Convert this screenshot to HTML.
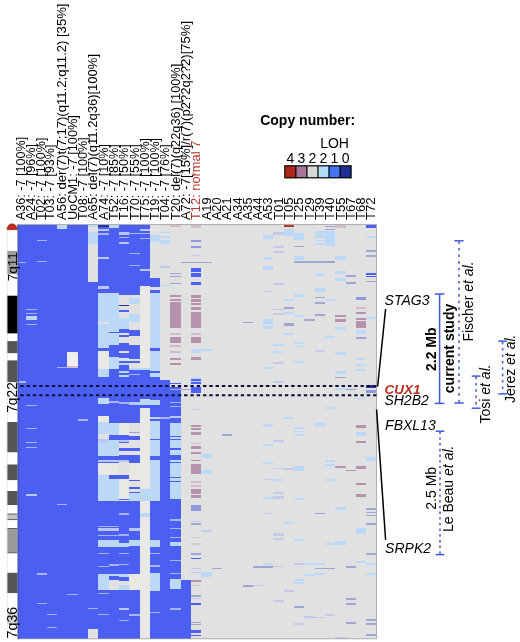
<!DOCTYPE html>
<html><head><meta charset="utf-8"><title>Copy number heatmap chr7</title>
<style>
html,body{margin:0;padding:0;background:#fff;}
body{width:520px;height:642px;overflow:hidden;font-family:"Liberation Sans",sans-serif;}
svg{display:block;filter:blur(0.3px);}
</style></head><body>
<svg width="520" height="642" viewBox="0 0 520 642"><g shape-rendering="crispEdges"><rect x="17.6" y="224.5" width="8.6" height="414.3" fill="#4b5ff3"/><rect x="26.2" y="224.5" width="10.3" height="414.3" fill="#4b5ff3"/><rect x="36.5" y="224.5" width="10.3" height="414.3" fill="#4b5ff3"/><rect x="46.8" y="224.5" width="10.3" height="414.3" fill="#4b5ff3"/><rect x="57.1" y="224.5" width="10.3" height="414.3" fill="#4b5ff3"/><rect x="67.4" y="224.5" width="10.3" height="414.3" fill="#4b5ff3"/><rect x="77.7" y="224.5" width="10.3" height="414.3" fill="#4b5ff3"/><rect x="88" y="224.5" width="10.3" height="414.3" fill="#e1e1e1"/><rect x="98.3" y="224.5" width="10.3" height="414.3" fill="#e1e1e1"/><rect x="108.6" y="224.5" width="10.3" height="414.3" fill="#e1e1e1"/><rect x="118.9" y="224.5" width="10.3" height="414.3" fill="#e1e1e1"/><rect x="129.2" y="224.5" width="10.3" height="414.3" fill="#e1e1e1"/><rect x="139.5" y="224.5" width="10.3" height="414.3" fill="#e1e1e1"/><rect x="149.8" y="224.5" width="10.3" height="414.3" fill="#e1e1e1"/><rect x="160.1" y="224.5" width="10.3" height="414.3" fill="#e1e1e1"/><rect x="170.4" y="224.5" width="10.3" height="414.3" fill="#e1e1e1"/><rect x="180.7" y="224.5" width="10.3" height="414.3" fill="#e1e1e1"/><rect x="191" y="224.5" width="10.3" height="414.3" fill="#e1e1e1"/><rect x="201.3" y="224.5" width="10.3" height="414.3" fill="#e1e1e1"/><rect x="211.6" y="224.5" width="10.3" height="414.3" fill="#e1e1e1"/><rect x="221.9" y="224.5" width="10.3" height="414.3" fill="#e1e1e1"/><rect x="232.2" y="224.5" width="10.3" height="414.3" fill="#e1e1e1"/><rect x="242.5" y="224.5" width="10.3" height="414.3" fill="#e1e1e1"/><rect x="252.8" y="224.5" width="10.3" height="414.3" fill="#e1e1e1"/><rect x="263.1" y="224.5" width="10.3" height="414.3" fill="#e1e1e1"/><rect x="273.4" y="224.5" width="10.3" height="414.3" fill="#e1e1e1"/><rect x="283.7" y="224.5" width="10.3" height="414.3" fill="#e1e1e1"/><rect x="294" y="224.5" width="10.3" height="414.3" fill="#e1e1e1"/><rect x="304.3" y="224.5" width="10.3" height="414.3" fill="#e1e1e1"/><rect x="314.6" y="224.5" width="10.3" height="414.3" fill="#e1e1e1"/><rect x="324.9" y="224.5" width="10.3" height="414.3" fill="#e1e1e1"/><rect x="335.2" y="224.5" width="10.3" height="414.3" fill="#e1e1e1"/><rect x="345.5" y="224.5" width="10.3" height="414.3" fill="#e1e1e1"/><rect x="355.8" y="224.5" width="10.3" height="414.3" fill="#e1e1e1"/><rect x="366.1" y="224.5" width="10.3" height="414.3" fill="#e1e1e1"/><rect x="17.6" y="262" width="8.6" height="1.2" fill="#a7b3f6"/><rect x="17.6" y="381.3" width="8.6" height="1.2" fill="#a7b3f6"/><rect x="26.2" y="309" width="10.3" height="1" fill="#a7b3f6"/><rect x="26.2" y="312.8" width="10.3" height="1.6" fill="#a7b3f6"/><rect x="26.2" y="323.8" width="10.3" height="1.2" fill="#a7b3f6"/><rect x="26.2" y="405" width="10.3" height="1.2" fill="#a7b3f6"/><rect x="26.2" y="428" width="10.3" height="1" fill="#a7b3f6"/><rect x="26.2" y="441.7" width="10.3" height="1.1" fill="#a7b3f6"/><rect x="26.2" y="446.8" width="10.3" height="1.6" fill="#a7b3f6"/><rect x="26.2" y="494.2" width="10.3" height="2" fill="#b9c5f6"/><rect x="26.2" y="315.6" width="10.3" height="4.1" fill="#bcd8f7"/><rect x="36.5" y="239.5" width="10.3" height="1" fill="#a7b3f6"/><rect x="36.5" y="261.3" width="10.3" height="1.1" fill="#a7b3f6"/><rect x="36.5" y="573.2" width="10.3" height="1.4" fill="#a7b3f6"/><rect x="36.5" y="602.9" width="10.3" height="1.3" fill="#a7b3f6"/><rect x="46.8" y="614.1" width="10.3" height="1.3" fill="#a7b3f6"/><rect x="46.8" y="626.7" width="10.3" height="1.4" fill="#a7b3f6"/><rect x="57.1" y="224.5" width="10.3" height="4.1" fill="#bcd8f7"/><rect x="57.1" y="367.4" width="10.3" height="0.9" fill="#a7b3f6"/><rect x="57.1" y="504" width="10.3" height="1.3" fill="#a7b3f6"/><rect x="67.4" y="351.9" width="10.3" height="14.4" fill="#e9e8e4"/><rect x="67.4" y="352.5" width="10.3" height="13" fill="#eeedf0"/><rect x="67.4" y="366.3" width="10.3" height="1.5" fill="#d2bccb"/><rect x="67.4" y="593.6" width="10.3" height="1.3" fill="#a7b3f6"/><rect x="77.7" y="419.4" width="10.3" height="1.2" fill="#a7b3f6"/><rect x="88" y="224.5" width="10.3" height="2" fill="#bcd8f7"/><rect x="88" y="232" width="10.3" height="12" fill="#bcd8f7"/><rect x="88" y="282.1" width="10.3" height="346.6" fill="#4b5ff3"/><rect x="88" y="608" width="10.3" height="1.2" fill="#a7b3f6"/><rect x="98.3" y="224.5" width="10.3" height="68.8" fill="#4b5ff3"/><rect x="98.3" y="225.3" width="10.3" height="2.1" fill="#27329c"/><rect x="98.3" y="228.7" width="10.3" height="2" fill="#b9c5f6"/><rect x="98.3" y="233.4" width="10.3" height="1.1" fill="#a7b3f6"/><rect x="98.3" y="257" width="10.3" height="2" fill="#b9c5f6"/><rect x="98.3" y="286" width="10.3" height="2.8" fill="#b9c5f6"/><rect x="98.3" y="293.3" width="10.3" height="29" fill="#bcd8f7"/><rect x="98.3" y="324" width="10.3" height="5" fill="#bcd8f7"/><rect x="98.3" y="329" width="10.3" height="18.9" fill="#bcd8f7"/><rect x="98.3" y="347.9" width="10.3" height="2.7" fill="#4b5ff3"/><rect x="98.3" y="350.6" width="10.3" height="17.9" fill="#e9e8e4"/><rect x="98.3" y="368.5" width="10.3" height="8" fill="#bcd8f7"/><rect x="98.3" y="376.5" width="10.3" height="21.5" fill="#4b5ff3"/><rect x="98.3" y="398" width="10.3" height="5.5" fill="#bcd8f7"/><rect x="98.3" y="403.5" width="10.3" height="12.7" fill="#4b5ff3"/><rect x="98.3" y="416.2" width="10.3" height="6.1" fill="#e9e8e4"/><rect x="98.3" y="422.3" width="10.3" height="11.7" fill="#bcd8f7"/><rect x="98.3" y="441.5" width="10.3" height="14.8" fill="#bcd8f7"/><rect x="98.3" y="434" width="10.3" height="4.8" fill="#e1e1e1"/><rect x="98.3" y="438.8" width="10.3" height="2.7" fill="#b9c5f6"/><rect x="98.3" y="456.3" width="10.3" height="3.2" fill="#4b5ff3"/><rect x="98.3" y="461.5" width="10.3" height="1.5" fill="#4b5ff3"/><rect x="98.3" y="459.5" width="10.3" height="2" fill="#b9c5f6"/><rect x="98.3" y="463" width="10.3" height="12" fill="#e9e8e4"/><rect x="98.3" y="475" width="10.3" height="26.2" fill="#bcd8f7"/><rect x="98.3" y="501.2" width="10.3" height="72.3" fill="#4b5ff3"/><rect x="98.3" y="526" width="10.3" height="1.4" fill="#a7b3f6"/><rect x="98.3" y="528" width="10.3" height="2.8" fill="#b9c5f6"/><rect x="98.3" y="534.8" width="10.3" height="1.3" fill="#a7b3f6"/><rect x="98.3" y="552.7" width="10.3" height="1.3" fill="#a7b3f6"/><rect x="98.3" y="565.5" width="10.3" height="1.3" fill="#a7b3f6"/><rect x="98.3" y="540.2" width="10.3" height="6.8" fill="#bcd8f7"/><rect x="98.3" y="573.5" width="10.3" height="16.2" fill="#bcd8f7"/><rect x="98.3" y="589.7" width="10.3" height="49.1" fill="#4b5ff3"/><rect x="98.3" y="593" width="10.3" height="1.4" fill="#a7b3f6"/><rect x="98.3" y="614" width="10.3" height="1.3" fill="#a7b3f6"/><rect x="108.6" y="224.5" width="10.3" height="3.3" fill="#bcd8f7"/><rect x="108.6" y="227.8" width="10.3" height="65.5" fill="#4b5ff3"/><rect x="108.6" y="293.3" width="10.3" height="38.4" fill="#bcd8f7"/><rect x="108.6" y="331.7" width="10.3" height="1.3" fill="#4b5ff3"/><rect x="108.6" y="333" width="10.3" height="12.2" fill="#bcd8f7"/><rect x="108.6" y="345.2" width="10.3" height="11.8" fill="#4b5ff3"/><rect x="108.6" y="357" width="10.3" height="11.5" fill="#bcd8f7"/><rect x="108.6" y="368.5" width="10.3" height="54.9" fill="#4b5ff3"/><rect x="108.6" y="401.4" width="10.3" height="1.4" fill="#a7b3f6"/><rect x="108.6" y="423.4" width="10.3" height="11.4" fill="#bcd8f7"/><rect x="108.6" y="434.8" width="10.3" height="5.4" fill="#4b5ff3"/><rect x="108.6" y="440.2" width="10.3" height="16.1" fill="#bcd8f7"/><rect x="108.6" y="456.3" width="10.3" height="3.2" fill="#4b5ff3"/><rect x="108.6" y="461.5" width="10.3" height="1.5" fill="#4b5ff3"/><rect x="108.6" y="459.5" width="10.3" height="2" fill="#b9c5f6"/><rect x="108.6" y="463" width="10.3" height="12.2" fill="#e9e8e4"/><rect x="108.6" y="475.2" width="10.3" height="3.3" fill="#4b5ff3"/><rect x="108.6" y="478.5" width="10.3" height="22.7" fill="#bcd8f7"/><rect x="108.6" y="501.2" width="10.3" height="137.6" fill="#4b5ff3"/><rect x="108.6" y="526" width="10.3" height="1.4" fill="#a7b3f6"/><rect x="108.6" y="528" width="10.3" height="2.8" fill="#b9c5f6"/><rect x="108.6" y="534.8" width="10.3" height="1.3" fill="#a7b3f6"/><rect x="108.6" y="564" width="10.3" height="1.5" fill="#a7b3f6"/><rect x="108.6" y="540.2" width="10.3" height="6.8" fill="#bcd8f7"/><rect x="108.6" y="573.5" width="10.3" height="2.7" fill="#bcd8f7"/><rect x="108.6" y="576.2" width="10.3" height="3.4" fill="#4b5ff3"/><rect x="108.6" y="579.6" width="10.3" height="10.1" fill="#e1e1e1"/><rect x="118.9" y="224.5" width="10.3" height="70.2" fill="#4b5ff3"/><rect x="118.9" y="232" width="10.3" height="2.5" fill="#b9c5f6"/><rect x="118.9" y="236.8" width="10.3" height="1.3" fill="#a7b3f6"/><rect x="118.9" y="241.5" width="10.3" height="2" fill="#b9c5f6"/><rect x="118.9" y="294.7" width="10.3" height="10.1" fill="#e1e1e1"/><rect x="118.9" y="304.8" width="10.3" height="1.4" fill="#27329c"/><rect x="118.9" y="306.2" width="10.3" height="4" fill="#e1e1e1"/><rect x="118.9" y="310.2" width="10.3" height="2" fill="#4b5ff3"/><rect x="118.9" y="312.2" width="10.3" height="5.8" fill="#e1e1e1"/><rect x="118.9" y="318" width="10.3" height="11" fill="#bcd8f7"/><rect x="118.9" y="329" width="10.3" height="4" fill="#4b5ff3"/><rect x="118.9" y="333" width="10.3" height="2" fill="#e1e1e1"/><rect x="118.9" y="335" width="10.3" height="2" fill="#4b5ff3"/><rect x="118.9" y="337" width="10.3" height="5.5" fill="#e1e1e1"/><rect x="118.9" y="342.5" width="10.3" height="8.1" fill="#4b5ff3"/><rect x="118.9" y="350.6" width="10.3" height="2.7" fill="#e1e1e1"/><rect x="118.9" y="353.3" width="10.3" height="4.4" fill="#4b5ff3"/><rect x="118.9" y="357.7" width="10.3" height="3.3" fill="#e1e1e1"/><rect x="118.9" y="361" width="10.3" height="2" fill="#4b5ff3"/><rect x="118.9" y="363" width="10.3" height="2" fill="#bcd8f7"/><rect x="118.9" y="365" width="10.3" height="5.5" fill="#4b5ff3"/><rect x="118.9" y="370.5" width="10.3" height="2.7" fill="#bcd8f7"/><rect x="118.9" y="373.2" width="10.3" height="1.3" fill="#4b5ff3"/><rect x="118.9" y="374.5" width="10.3" height="2.7" fill="#bcd8f7"/><rect x="118.9" y="377.2" width="10.3" height="46.2" fill="#4b5ff3"/><rect x="118.9" y="402" width="10.3" height="1.5" fill="#a7b3f6"/><rect x="118.9" y="423.4" width="10.3" height="11.4" fill="#e9e8e4"/><rect x="118.9" y="434.8" width="10.3" height="4.7" fill="#4b5ff3"/><rect x="118.9" y="439.5" width="10.3" height="2" fill="#b9c5f6"/><rect x="118.9" y="441.5" width="10.3" height="1.5" fill="#4b5ff3"/><rect x="118.9" y="443" width="10.3" height="5.3" fill="#e1e1e1"/><rect x="118.9" y="448.3" width="10.3" height="2.7" fill="#4b5ff3"/><rect x="118.9" y="451" width="10.3" height="4" fill="#e1e1e1"/><rect x="118.9" y="455" width="10.3" height="4.7" fill="#4b5ff3"/><rect x="118.9" y="459.7" width="10.3" height="2.7" fill="#b9c5f6"/><rect x="118.9" y="462.4" width="10.3" height="12.8" fill="#e1e1e1"/><rect x="118.9" y="475.2" width="10.3" height="3.3" fill="#4b5ff3"/><rect x="118.9" y="478.5" width="10.3" height="20" fill="#e9e8e4"/><rect x="118.9" y="498.5" width="10.3" height="1.5" fill="#4b5ff3"/><rect x="118.9" y="500" width="10.3" height="1.2" fill="#e1e1e1"/><rect x="118.9" y="501.2" width="10.3" height="137.6" fill="#4b5ff3"/><rect x="118.9" y="513" width="10.3" height="1.5" fill="#a7b3f6"/><rect x="118.9" y="534" width="10.3" height="1.5" fill="#a7b3f6"/><rect x="118.9" y="552.7" width="10.3" height="1.3" fill="#a7b3f6"/><rect x="118.9" y="563.5" width="10.3" height="1.3" fill="#a7b3f6"/><rect x="118.9" y="607.9" width="10.3" height="2.1" fill="#b9c5f6"/><rect x="118.9" y="619.5" width="10.3" height="1.5" fill="#a7b3f6"/><rect x="118.9" y="542.9" width="10.3" height="4.1" fill="#bcd8f7"/><rect x="118.9" y="574" width="10.3" height="3" fill="#bcd8f7"/><rect x="118.9" y="585" width="10.3" height="4.7" fill="#bcd8f7"/><rect x="118.9" y="581" width="10.3" height="4" fill="#e1e1e1"/><rect x="129.2" y="224.5" width="10.3" height="70.2" fill="#4b5ff3"/><rect x="129.2" y="232.7" width="10.3" height="1.4" fill="#a7b3f6"/><rect x="129.2" y="252.9" width="10.3" height="1.4" fill="#a7b3f6"/><rect x="129.2" y="265" width="10.3" height="1" fill="#a7b3f6"/><rect x="129.2" y="294.7" width="10.3" height="3.3" fill="#e1e1e1"/><rect x="129.2" y="298" width="10.3" height="5.5" fill="#bcd8f7"/><rect x="129.2" y="303.5" width="10.3" height="10.5" fill="#e1e1e1"/><rect x="129.2" y="314" width="10.3" height="8" fill="#bcd8f7"/><rect x="129.2" y="322" width="10.3" height="7.7" fill="#e1e1e1"/><rect x="129.2" y="329.7" width="10.3" height="6.7" fill="#4b5ff3"/><rect x="129.2" y="336.4" width="10.3" height="8.8" fill="#e1e1e1"/><rect x="129.2" y="345.2" width="10.3" height="13.8" fill="#4b5ff3"/><rect x="129.2" y="359" width="10.3" height="2" fill="#e1e1e1"/><rect x="129.2" y="361" width="10.3" height="2" fill="#4b5ff3"/><rect x="129.2" y="363" width="10.3" height="4.8" fill="#e1e1e1"/><rect x="129.2" y="367.8" width="10.3" height="2.2" fill="#bcd8f7"/><rect x="129.2" y="370" width="10.3" height="53.4" fill="#4b5ff3"/><rect x="129.2" y="373.8" width="10.3" height="1.4" fill="#a7b3f6"/><rect x="129.2" y="402" width="10.3" height="2.8" fill="#b9c5f6"/><rect x="129.2" y="423.4" width="10.3" height="8.6" fill="#e1e1e1"/><rect x="129.2" y="432" width="10.3" height="1.4" fill="#a0a6d2"/><rect x="129.2" y="433.4" width="10.3" height="2.6" fill="#e1e1e1"/><rect x="129.2" y="436" width="10.3" height="3.5" fill="#4b5ff3"/><rect x="129.2" y="439.5" width="10.3" height="8.8" fill="#e1e1e1"/><rect x="129.2" y="448.3" width="10.3" height="2.7" fill="#4b5ff3"/><rect x="129.2" y="451" width="10.3" height="4" fill="#e1e1e1"/><rect x="129.2" y="455" width="10.3" height="8" fill="#4b5ff3"/><rect x="129.2" y="463" width="10.3" height="17" fill="#e9e8e4"/><rect x="129.2" y="480" width="10.3" height="1.2" fill="#4b5ff3"/><rect x="129.2" y="481.2" width="10.3" height="5.4" fill="#e1e1e1"/><rect x="129.2" y="486.6" width="10.3" height="2" fill="#4b5ff3"/><rect x="129.2" y="488.6" width="10.3" height="3.1" fill="#e1e1e1"/><rect x="129.2" y="491.7" width="10.3" height="1.3" fill="#4b5ff3"/><rect x="129.2" y="493" width="10.3" height="8.2" fill="#bcd8f7"/><rect x="129.2" y="501.2" width="10.3" height="72.3" fill="#4b5ff3"/><rect x="129.2" y="528" width="10.3" height="2.8" fill="#b9c5f6"/><rect x="129.2" y="540" width="10.3" height="5.6" fill="#bcd8f7"/><rect x="129.2" y="573.5" width="10.3" height="16.9" fill="#e9e8e4"/><rect x="129.2" y="590.4" width="10.3" height="48.4" fill="#4b5ff3"/><rect x="129.2" y="614" width="10.3" height="1.5" fill="#a7b3f6"/><rect x="139.5" y="224.5" width="10.3" height="61.5" fill="#4b5ff3"/><rect x="139.5" y="228.7" width="10.3" height="2" fill="#b9c5f6"/><rect x="139.5" y="233" width="10.3" height="1" fill="#a7b3f6"/><rect x="139.5" y="237.5" width="10.3" height="1.3" fill="#a7b3f6"/><rect x="139.5" y="269" width="10.3" height="2.4" fill="#b9c5f6"/><rect x="139.5" y="286" width="10.3" height="81.8" fill="#e9e8e4"/><rect x="139.5" y="367.8" width="10.3" height="2" fill="#bcd8f7"/><rect x="139.5" y="369.8" width="10.3" height="37.7" fill="#4b5ff3"/><rect x="139.5" y="399.4" width="10.3" height="5.4" fill="#bcd8f7"/><rect x="139.5" y="407.5" width="10.3" height="231.3" fill="#e9e8e4"/><rect x="139.5" y="513.3" width="10.3" height="4" fill="#bcd8f7"/><rect x="139.5" y="489" width="10.3" height="12.2" fill="#bcd8f7"/><rect x="149.8" y="228.7" width="10.3" height="1.3" fill="#e9e8e4"/><rect x="149.8" y="235.4" width="10.3" height="6.1" fill="#bcd8f7"/><rect x="149.8" y="277.8" width="10.3" height="8.8" fill="#4b5ff3"/><rect x="149.8" y="290" width="10.3" height="3.4" fill="#4b5ff3"/><rect x="149.8" y="293.4" width="10.3" height="54.5" fill="#bcd8f7"/><rect x="149.8" y="347.9" width="10.3" height="2.7" fill="#4b5ff3"/><rect x="149.8" y="350.6" width="10.3" height="20.4" fill="#bcd8f7"/><rect x="149.8" y="371" width="10.3" height="1.5" fill="#4b5ff3"/><rect x="149.8" y="372.5" width="10.3" height="4.7" fill="#bcd8f7"/><rect x="149.8" y="377.2" width="10.3" height="22.8" fill="#4b5ff3"/><rect x="149.8" y="400" width="10.3" height="5" fill="#bcd8f7"/><rect x="149.8" y="405" width="10.3" height="12" fill="#4b5ff3"/><rect x="149.8" y="417" width="10.3" height="2" fill="#bcd8f7"/><rect x="149.8" y="419" width="10.3" height="2.4" fill="#4b5ff3"/><rect x="149.8" y="421.4" width="10.3" height="79.8" fill="#bcd8f7"/><rect x="149.8" y="438.6" width="10.3" height="1.4" fill="#4b5ff3"/><rect x="149.8" y="456.3" width="10.3" height="3.4" fill="#4b5ff3"/><rect x="149.8" y="501.2" width="10.3" height="39" fill="#4b5ff3"/><rect x="149.8" y="540.2" width="10.3" height="6.8" fill="#bcd8f7"/><rect x="149.8" y="547" width="10.3" height="26" fill="#4b5ff3"/><rect x="149.8" y="552.9" width="10.3" height="1.1" fill="#a7b3f6"/><rect x="149.8" y="565" width="10.3" height="1.5" fill="#a7b3f6"/><rect x="149.8" y="573" width="10.3" height="17.9" fill="#bcd8f7"/><rect x="149.8" y="590.9" width="10.3" height="47.9" fill="#4b5ff3"/><rect x="149.8" y="611.7" width="10.3" height="1.2" fill="#a7b3f6"/><rect x="160.1" y="231.6" width="10.3" height="1.4" fill="#bcd8f7"/><rect x="160.1" y="236" width="10.3" height="1.5" fill="#bcd8f7"/><rect x="160.1" y="239.5" width="10.3" height="4.7" fill="#bcd8f7"/><rect x="160.1" y="284.6" width="10.3" height="1.4" fill="#bcd8f7"/><rect x="160.1" y="266.4" width="10.3" height="1.3" fill="#c4c9ea"/><rect x="160.1" y="380" width="10.3" height="258.8" fill="#4b5ff3"/><rect x="160.1" y="417" width="10.3" height="1.5" fill="#a7b3f6"/><rect x="170.4" y="224.7" width="10.3" height="2.7" fill="#d2bccb"/><rect x="170.4" y="273.1" width="10.3" height="0.9" fill="#a0a6d2"/><rect x="170.4" y="276.2" width="10.3" height="1" fill="#a0a6d2"/><rect x="170.4" y="282.5" width="10.3" height="1.4" fill="#a0a6d2"/><rect x="170.4" y="295.4" width="10.3" height="2" fill="#b792ae"/><rect x="170.4" y="298.7" width="10.3" height="2.1" fill="#b792ae"/><rect x="170.4" y="301.5" width="10.3" height="2" fill="#b792ae"/><rect x="170.4" y="304" width="10.3" height="24.4" fill="#b792ae"/><rect x="170.4" y="337" width="10.3" height="5.5" fill="#b792ae"/><rect x="170.4" y="358.4" width="10.3" height="2" fill="#b792ae"/><rect x="170.4" y="363" width="10.3" height="2" fill="#b792ae"/><rect x="170.4" y="333" width="10.3" height="1.7" fill="#d2bccb"/><rect x="170.4" y="344.5" width="10.3" height="2" fill="#d2bccb"/><rect x="170.4" y="351.2" width="10.3" height="1.4" fill="#d2bccb"/><rect x="170.4" y="382.6" width="10.3" height="1.4" fill="#4b5ff3"/><rect x="170.4" y="387.3" width="10.3" height="36.1" fill="#4b5ff3"/><rect x="170.4" y="389.3" width="10.3" height="1" fill="#a7b3f6"/><rect x="170.4" y="402" width="10.3" height="1.3" fill="#a7b3f6"/><rect x="170.4" y="406" width="10.3" height="1.3" fill="#a7b3f6"/><rect x="170.4" y="416" width="10.3" height="2" fill="#b9c5f6"/><rect x="170.4" y="423.4" width="10.3" height="75.7" fill="#bcd8f7"/><rect x="170.4" y="435.5" width="10.3" height="1.3" fill="#4b5ff3"/><rect x="170.4" y="438.8" width="10.3" height="1.4" fill="#4b5ff3"/><rect x="170.4" y="448.3" width="10.3" height="1.3" fill="#4b5ff3"/><rect x="170.4" y="455.3" width="10.3" height="4.4" fill="#4b5ff3"/><rect x="170.4" y="461.7" width="10.3" height="1.3" fill="#4b5ff3"/><rect x="170.4" y="476.5" width="10.3" height="1.4" fill="#4b5ff3"/><rect x="170.4" y="480.6" width="10.3" height="1.3" fill="#4b5ff3"/><rect x="170.4" y="499.1" width="10.3" height="79.6" fill="#4b5ff3"/><rect x="170.4" y="519.3" width="10.3" height="1.4" fill="#a7b3f6"/><rect x="170.4" y="528" width="10.3" height="1.4" fill="#a7b3f6"/><rect x="170.4" y="536.8" width="10.3" height="1.4" fill="#a7b3f6"/><rect x="170.4" y="560" width="10.3" height="1" fill="#a7b3f6"/><rect x="170.4" y="573" width="10.3" height="1.4" fill="#a7b3f6"/><rect x="170.4" y="541.5" width="10.3" height="4.1" fill="#bcd8f7"/><rect x="170.4" y="578.7" width="10.3" height="10" fill="#bcd8f7"/><rect x="170.4" y="588.7" width="10.3" height="50.1" fill="#4b5ff3"/><rect x="170.4" y="608" width="10.3" height="1.5" fill="#a7b3f6"/><rect x="180.7" y="261.7" width="10.3" height="1.3" fill="#a0a6d2"/><rect x="180.7" y="389.3" width="10.3" height="1" fill="#a0a6d2"/><rect x="180.7" y="580.1" width="10.3" height="58.7" fill="#4b5ff3"/><rect x="191" y="224.7" width="10.3" height="3.1" fill="#d2bccb"/><rect x="191" y="240.2" width="10.3" height="1.6" fill="#8f97dd"/><rect x="191" y="246.2" width="10.3" height="2" fill="#8f97dd"/><rect x="191" y="255" width="10.3" height="1.3" fill="#c4c9ea"/><rect x="191" y="268.4" width="10.3" height="3.4" fill="#4b5ff3"/><rect x="191" y="273.1" width="10.3" height="4.1" fill="#4b5ff3"/><rect x="191" y="281.9" width="10.3" height="3.3" fill="#4b5ff3"/><rect x="191" y="261.7" width="10.3" height="1.3" fill="#a0a6d2"/><rect x="191" y="295.4" width="10.3" height="2.6" fill="#b792ae"/><rect x="191" y="299" width="10.3" height="2.5" fill="#b792ae"/><rect x="191" y="302.5" width="10.3" height="2.3" fill="#b792ae"/><rect x="191" y="306.8" width="10.3" height="2.7" fill="#b792ae"/><rect x="191" y="312.2" width="10.3" height="16.2" fill="#b792ae"/><rect x="191" y="337" width="10.3" height="5.5" fill="#b792ae"/><rect x="191" y="357" width="10.3" height="2.7" fill="#b792ae"/><rect x="191" y="333" width="10.3" height="1.7" fill="#d2bccb"/><rect x="191" y="348.5" width="10.3" height="4.8" fill="#bcd8f7"/><rect x="191" y="377.9" width="10.3" height="6.1" fill="#bcd8f7"/><rect x="191" y="379" width="10.3" height="1.5" fill="#4b5ff3"/><rect x="191" y="382" width="10.3" height="1.5" fill="#4b5ff3"/><rect x="191" y="386.6" width="10.3" height="6.1" fill="#4b5ff3"/><rect x="191" y="408.8" width="10.3" height="1.4" fill="#c4c9ea"/><rect x="191" y="424.7" width="10.3" height="2" fill="#b792ae"/><rect x="191" y="428" width="10.3" height="2" fill="#b792ae"/><rect x="191" y="432.1" width="10.3" height="2.7" fill="#b792ae"/><rect x="191" y="446.2" width="10.3" height="2.8" fill="#b792ae"/><rect x="191" y="451.6" width="10.3" height="2.7" fill="#b792ae"/><rect x="191" y="459.7" width="10.3" height="1.3" fill="#b792ae"/><rect x="191" y="463.7" width="10.3" height="10.1" fill="#b792ae"/><rect x="191" y="489" width="10.3" height="5" fill="#b792ae"/><rect x="191" y="495" width="10.3" height="3" fill="#b792ae"/><rect x="191" y="442.5" width="10.3" height="1.5" fill="#d2bccb"/><rect x="191" y="481" width="10.3" height="2" fill="#d2bccb"/><rect x="191" y="485" width="10.3" height="2" fill="#d2bccb"/><rect x="191" y="584.5" width="10.3" height="1.5" fill="#d2bccb"/><rect x="191" y="536.8" width="10.3" height="1.4" fill="#cbcbd2"/><rect x="191" y="542.9" width="10.3" height="2.1" fill="#cbcbd2"/><rect x="191" y="504.5" width="10.3" height="6.1" fill="#8f97dd"/><rect x="191" y="520.7" width="10.3" height="1.3" fill="#c4c9ea"/><rect x="191" y="568" width="10.3" height="1.4" fill="#c4c9ea"/><rect x="191" y="571.5" width="10.3" height="1.5" fill="#c4c9ea"/><rect x="191" y="598" width="10.3" height="1" fill="#c4c9ea"/><rect x="191" y="523.4" width="10.3" height="1.3" fill="#a0a6d2"/><rect x="191" y="553" width="10.3" height="2" fill="#a0a6d2"/><rect x="191" y="595.2" width="10.3" height="1.4" fill="#a0a6d2"/><rect x="191" y="621.7" width="10.3" height="1.5" fill="#a0a6d2"/><rect x="191" y="624" width="10.3" height="1.4" fill="#a0a6d2"/><rect x="191" y="557.9" width="10.3" height="1.4" fill="#4b5ff3"/><rect x="191" y="603.4" width="10.3" height="1.8" fill="#4b5ff3"/><rect x="191" y="629.6" width="10.3" height="3.6" fill="#4b5ff3"/><rect x="191" y="634.6" width="10.3" height="1.4" fill="#4b5ff3"/><rect x="191" y="580" width="10.3" height="1.6" fill="#b792ae"/><rect x="201.3" y="261.7" width="10.3" height="1.3" fill="#a0a6d2"/><rect x="201.3" y="348.5" width="10.3" height="2.1" fill="#bcd8f7"/><rect x="201.3" y="453.6" width="10.3" height="4.1" fill="#bcd8f7"/><rect x="201.3" y="469.8" width="10.3" height="4" fill="#bcd8f7"/><rect x="201.3" y="571.5" width="10.3" height="5" fill="#bcd8f7"/><rect x="201.3" y="530" width="10.3" height="1.5" fill="#c4c9ea"/><rect x="211.6" y="567.7" width="10.3" height="1.3" fill="#a0a6d2"/><rect x="221.9" y="433.8" width="10.3" height="1.7" fill="#a0a6d2"/><rect x="242.5" y="321.5" width="10.3" height="1.7" fill="#a0a6d2"/><rect x="242.5" y="585.3" width="10.3" height="1.4" fill="#a0a6d2"/><rect x="252.8" y="566.3" width="10.3" height="1.4" fill="#a0a6d2"/><rect x="252.8" y="585" width="10.3" height="1" fill="#c4c9ea"/><rect x="263.1" y="235" width="10.3" height="4.3" fill="#bcd8f7"/><rect x="263.1" y="256.6" width="10.3" height="3.4" fill="#bcd8f7"/><rect x="263.1" y="266" width="10.3" height="3.6" fill="#bcd8f7"/><rect x="263.1" y="318.9" width="10.3" height="5.1" fill="#bcd8f7"/><rect x="263.1" y="325.8" width="10.3" height="3.5" fill="#bcd8f7"/><rect x="263.1" y="367.2" width="10.3" height="1.8" fill="#bcd8f7"/><rect x="263.1" y="424.3" width="10.3" height="2.6" fill="#bcd8f7"/><rect x="263.1" y="443.7" width="10.3" height="2.5" fill="#bcd8f7"/><rect x="263.1" y="461.8" width="10.3" height="2.6" fill="#bcd8f7"/><rect x="263.1" y="497.3" width="10.3" height="1.7" fill="#bcd8f7"/><rect x="263.1" y="562.5" width="10.3" height="2.5" fill="#bcd8f7"/><rect x="263.1" y="291" width="10.3" height="1" fill="#c4c9ea"/><rect x="263.1" y="385" width="10.3" height="1" fill="#c4c9ea"/><rect x="263.1" y="479" width="10.3" height="1" fill="#c4c9ea"/><rect x="263.1" y="513" width="10.3" height="1" fill="#c4c9ea"/><rect x="263.1" y="566.3" width="10.3" height="1.4" fill="#a0a6d2"/><rect x="273.4" y="232.4" width="10.3" height="2.6" fill="#c4c9ea"/><rect x="273.4" y="246.2" width="10.3" height="1.8" fill="#c4c9ea"/><rect x="273.4" y="251.4" width="10.3" height="1.7" fill="#c4c9ea"/><rect x="273.4" y="263.5" width="10.3" height="0.9" fill="#c4c9ea"/><rect x="273.4" y="283.4" width="10.3" height="1.7" fill="#c4c9ea"/><rect x="273.4" y="308.5" width="10.3" height="1.7" fill="#c4c9ea"/><rect x="273.4" y="312.8" width="10.3" height="1.7" fill="#c4c9ea"/><rect x="273.4" y="343.8" width="10.3" height="1.8" fill="#c4c9ea"/><rect x="273.4" y="350.8" width="10.3" height="2.6" fill="#c4c9ea"/><rect x="273.4" y="362" width="10.3" height="1.7" fill="#c4c9ea"/><rect x="273.4" y="381" width="10.3" height="1.8" fill="#c4c9ea"/><rect x="273.4" y="440" width="10.3" height="1.5" fill="#c4c9ea"/><rect x="273.4" y="467.5" width="10.3" height="1.5" fill="#c4c9ea"/><rect x="273.4" y="478.6" width="10.3" height="2.4" fill="#c4c9ea"/><rect x="273.4" y="492" width="10.3" height="2.2" fill="#c4c9ea"/><rect x="273.4" y="496" width="10.3" height="3" fill="#c4c9ea"/><rect x="273.4" y="532.8" width="10.3" height="2.7" fill="#c4c9ea"/><rect x="273.4" y="537.8" width="10.3" height="1.7" fill="#c4c9ea"/><rect x="273.4" y="565.5" width="10.3" height="1.5" fill="#c4c9ea"/><rect x="273.4" y="600" width="10.3" height="2" fill="#c4c9ea"/><rect x="273.4" y="344" width="10.3" height="1.5" fill="#bcd8f7"/><rect x="273.4" y="351" width="10.3" height="2" fill="#bcd8f7"/><rect x="273.4" y="478.6" width="10.3" height="2.4" fill="#bcd8f7"/><rect x="283.7" y="224.6" width="10.3" height="2.8" fill="#b3352a"/><rect x="283.7" y="229.3" width="10.3" height="3.2" fill="#bcd8f7"/><rect x="283.7" y="233" width="10.3" height="2.7" fill="#bcd8f7"/><rect x="283.7" y="298.7" width="10.3" height="1.8" fill="#bcd8f7"/><rect x="283.7" y="312.4" width="10.3" height="1.8" fill="#bcd8f7"/><rect x="283.7" y="332.7" width="10.3" height="1.9" fill="#bcd8f7"/><rect x="283.7" y="416.8" width="10.3" height="1.8" fill="#bcd8f7"/><rect x="283.7" y="522" width="10.3" height="2" fill="#bcd8f7"/><rect x="283.7" y="307" width="10.3" height="1.8" fill="#a0a6d2"/><rect x="283.7" y="323.4" width="10.3" height="2.6" fill="#a0a6d2"/><rect x="283.7" y="468" width="10.3" height="1.5" fill="#c4c9ea"/><rect x="283.7" y="590" width="10.3" height="1.5" fill="#c4c9ea"/><rect x="294" y="233" width="10.3" height="7.3" fill="#bcd8f7"/><rect x="294" y="255.8" width="10.3" height="4.6" fill="#bcd8f7"/><rect x="294" y="294.2" width="10.3" height="2.8" fill="#bcd8f7"/><rect x="294" y="315.2" width="10.3" height="1.8" fill="#bcd8f7"/><rect x="294" y="341.9" width="10.3" height="1.8" fill="#bcd8f7"/><rect x="294" y="345.5" width="10.3" height="1.9" fill="#bcd8f7"/><rect x="294" y="361" width="10.3" height="1.5" fill="#bcd8f7"/><rect x="294" y="426.8" width="10.3" height="1.8" fill="#bcd8f7"/><rect x="294" y="430.5" width="10.3" height="1.8" fill="#bcd8f7"/><rect x="294" y="434" width="10.3" height="2" fill="#bcd8f7"/><rect x="294" y="466" width="10.3" height="4.6" fill="#bcd8f7"/><rect x="294" y="498" width="10.3" height="2" fill="#bcd8f7"/><rect x="294" y="539" width="10.3" height="2" fill="#bcd8f7"/><rect x="294" y="579" width="10.3" height="2" fill="#bcd8f7"/><rect x="294" y="582" width="10.3" height="2" fill="#bcd8f7"/><rect x="294" y="245.7" width="10.3" height="1.5" fill="#a0a6d2"/><rect x="294" y="261.3" width="10.3" height="1.3" fill="#a0a6d2"/><rect x="294" y="606" width="10.3" height="1.5" fill="#a0a6d2"/><rect x="294" y="563" width="10.3" height="1.5" fill="#c4c9ea"/><rect x="294" y="623" width="10.3" height="1.5" fill="#c4c9ea"/><rect x="304.3" y="318.8" width="10.3" height="1.8" fill="#a0a6d2"/><rect x="304.3" y="261.3" width="10.3" height="1.3" fill="#a0a6d2"/><rect x="304.3" y="563" width="10.3" height="2" fill="#bcd8f7"/><rect x="304.3" y="574" width="10.3" height="2" fill="#bcd8f7"/><rect x="304.3" y="616" width="10.3" height="1.5" fill="#c4c9ea"/><rect x="314.6" y="231.1" width="10.3" height="1.5" fill="#bcd8f7"/><rect x="314.6" y="234" width="10.3" height="1.5" fill="#bcd8f7"/><rect x="314.6" y="236.4" width="10.3" height="1.5" fill="#bcd8f7"/><rect x="314.6" y="239.8" width="10.3" height="1.4" fill="#bcd8f7"/><rect x="314.6" y="242.7" width="10.3" height="2.3" fill="#bcd8f7"/><rect x="314.6" y="273" width="10.3" height="3" fill="#bcd8f7"/><rect x="314.6" y="287.8" width="10.3" height="4.5" fill="#bcd8f7"/><rect x="314.6" y="423.2" width="10.3" height="3.6" fill="#bcd8f7"/><rect x="314.6" y="562.5" width="10.3" height="2" fill="#bcd8f7"/><rect x="314.6" y="573" width="10.3" height="2" fill="#bcd8f7"/><rect x="314.6" y="261.3" width="10.3" height="1.3" fill="#a0a6d2"/><rect x="314.6" y="296.9" width="10.3" height="1.5" fill="#a0a6d2"/><rect x="314.6" y="302.4" width="10.3" height="1.4" fill="#a0a6d2"/><rect x="314.6" y="314.3" width="10.3" height="1.7" fill="#a0a6d2"/><rect x="314.6" y="513" width="10.3" height="1" fill="#a0a6d2"/><rect x="314.6" y="567.5" width="10.3" height="1.5" fill="#a0a6d2"/><rect x="314.6" y="350" width="10.3" height="1.5" fill="#c4c9ea"/><rect x="314.6" y="617" width="10.3" height="1" fill="#c4c9ea"/><rect x="324.9" y="230.7" width="10.3" height="15.3" fill="#bcd8f7"/><rect x="324.9" y="298.7" width="10.3" height="1.8" fill="#bcd8f7"/><rect x="324.9" y="336.4" width="10.3" height="1.8" fill="#bcd8f7"/><rect x="324.9" y="406.8" width="10.3" height="1.8" fill="#bcd8f7"/><rect x="324.9" y="459.7" width="10.3" height="1.8" fill="#bcd8f7"/><rect x="324.9" y="464.2" width="10.3" height="1.8" fill="#bcd8f7"/><rect x="324.9" y="478.8" width="10.3" height="1.9" fill="#bcd8f7"/><rect x="324.9" y="543" width="10.3" height="2" fill="#bcd8f7"/><rect x="324.9" y="225.8" width="10.3" height="1.5" fill="#a0a6d2"/><rect x="324.9" y="228.7" width="10.3" height="1" fill="#a0a6d2"/><rect x="324.9" y="261.3" width="10.3" height="1.3" fill="#a0a6d2"/><rect x="324.9" y="567.5" width="10.3" height="1.5" fill="#a0a6d2"/><rect x="324.9" y="614" width="10.3" height="1.5" fill="#c4c9ea"/><rect x="335.2" y="224.7" width="10.3" height="2.8" fill="#d2bccb"/><rect x="335.2" y="255.8" width="10.3" height="4.6" fill="#bcd8f7"/><rect x="335.2" y="271.3" width="10.3" height="2.7" fill="#bcd8f7"/><rect x="335.2" y="277.7" width="10.3" height="3.7" fill="#bcd8f7"/><rect x="335.2" y="327" width="10.3" height="2.7" fill="#bcd8f7"/><rect x="335.2" y="352" width="10.3" height="2.7" fill="#bcd8f7"/><rect x="335.2" y="371" width="10.3" height="2.8" fill="#bcd8f7"/><rect x="335.2" y="388" width="10.3" height="2" fill="#bcd8f7"/><rect x="335.2" y="507" width="10.3" height="3" fill="#bcd8f7"/><rect x="335.2" y="541" width="10.3" height="3.6" fill="#bcd8f7"/><rect x="335.2" y="376.6" width="10.3" height="1.3" fill="#a0a6d2"/><rect x="335.2" y="315.2" width="10.3" height="1.8" fill="#b792ae"/><rect x="335.2" y="318.5" width="10.3" height="3.1" fill="#b792ae"/><rect x="335.2" y="466" width="10.3" height="2" fill="#b792ae"/><rect x="335.2" y="637" width="10.3" height="2" fill="#c4c9ea"/><rect x="345.5" y="275" width="10.3" height="1.8" fill="#a0a6d2"/><rect x="345.5" y="282.3" width="10.3" height="1.8" fill="#a0a6d2"/><rect x="345.5" y="389" width="10.3" height="1" fill="#a0a6d2"/><rect x="345.5" y="598" width="10.3" height="2" fill="#a0a6d2"/><rect x="345.5" y="603" width="10.3" height="2" fill="#a0a6d2"/><rect x="345.5" y="565.8" width="10.3" height="1.7" fill="#a0a6d2"/><rect x="345.5" y="622" width="10.3" height="1.5" fill="#a0a6d2"/><rect x="345.5" y="469.7" width="10.3" height="1.3" fill="#b792ae"/><rect x="355.8" y="297" width="10.3" height="2.6" fill="#8f97dd"/><rect x="355.8" y="306.5" width="10.3" height="2.3" fill="#d2bccb"/><rect x="355.8" y="312.4" width="10.3" height="1.8" fill="#b792ae"/><rect x="355.8" y="318" width="10.3" height="1.7" fill="#b792ae"/><rect x="355.8" y="320.6" width="10.3" height="7.4" fill="#b792ae"/><rect x="355.8" y="425" width="10.3" height="2.7" fill="#b792ae"/><rect x="355.8" y="440.5" width="10.3" height="2.7" fill="#b792ae"/><rect x="355.8" y="466" width="10.3" height="2.8" fill="#b792ae"/><rect x="355.8" y="483.4" width="10.3" height="1.3" fill="#b792ae"/><rect x="355.8" y="494.4" width="10.3" height="2.7" fill="#b792ae"/><rect x="355.8" y="330" width="10.3" height="3.7" fill="#bcd8f7"/><rect x="355.8" y="358" width="10.3" height="2" fill="#bcd8f7"/><rect x="355.8" y="363.8" width="10.3" height="1.8" fill="#bcd8f7"/><rect x="355.8" y="369.3" width="10.3" height="1.7" fill="#bcd8f7"/><rect x="355.8" y="397.6" width="10.3" height="1.8" fill="#bcd8f7"/><rect x="355.8" y="432.3" width="10.3" height="3.7" fill="#bcd8f7"/><rect x="355.8" y="528" width="10.3" height="5.6" fill="#bcd8f7"/><rect x="355.8" y="561" width="10.3" height="2" fill="#bcd8f7"/><rect x="355.8" y="337" width="10.3" height="2" fill="#a0a6d2"/><rect x="366.1" y="224.7" width="10.3" height="3.7" fill="#4b5ff3"/><rect x="366.1" y="273" width="10.3" height="2" fill="#4b5ff3"/><rect x="366.1" y="276" width="10.3" height="1.2" fill="#4b5ff3"/><rect x="366.1" y="235.7" width="10.3" height="2.7" fill="#bcd8f7"/><rect x="366.1" y="317" width="10.3" height="1.8" fill="#bcd8f7"/><rect x="366.1" y="457" width="10.3" height="3.6" fill="#bcd8f7"/><rect x="366.1" y="573" width="10.3" height="2" fill="#bcd8f7"/><rect x="366.1" y="563" width="10.3" height="2" fill="#bcd8f7"/><rect x="366.1" y="250.3" width="10.3" height="1.8" fill="#a0a6d2"/><rect x="366.1" y="254.9" width="10.3" height="1.8" fill="#a0a6d2"/><rect x="366.1" y="281.4" width="10.3" height="0.9" fill="#a0a6d2"/><rect x="366.1" y="508" width="10.3" height="2" fill="#a0a6d2"/><rect x="366.1" y="511.7" width="10.3" height="1.6" fill="#a0a6d2"/><rect x="366.1" y="514.5" width="10.3" height="1.5" fill="#a0a6d2"/><rect x="366.1" y="522.7" width="10.3" height="2.2" fill="#a0a6d2"/><rect x="366.1" y="553" width="10.3" height="2" fill="#a0a6d2"/><rect x="366.1" y="619.2" width="10.3" height="1.8" fill="#a0a6d2"/><rect x="366.1" y="623" width="10.3" height="2" fill="#a0a6d2"/><rect x="366.1" y="634" width="10.3" height="2" fill="#a0a6d2"/><rect x="366.1" y="384.8" width="10.3" height="2.7" fill="#27329c"/><rect x="366.1" y="390" width="10.3" height="3" fill="#8f97dd"/></g><rect x="17.6" y="224.5" width="358.9" height="414.3" fill="none" stroke="#9d9d9d" stroke-width="0.8"/><rect x="17.6" y="224.6" width="1" height="414.6" fill="#3544b8"/><rect x="18.5" y="224.5" width="130" height="1" fill="none"/><g><rect x="6.9" y="229.6" width="10.4" height="21.3" fill="#ffffff"/><rect x="6.9" y="250.9" width="10.4" height="23.4" fill="#9c9c9c"/><rect x="6.9" y="274.3" width="10.4" height="21.4" fill="#ffffff"/><rect x="6.9" y="295.7" width="10.4" height="37.9" fill="#000000"/><rect x="6.9" y="333.6" width="10.4" height="7.5" fill="#ffffff"/><rect x="6.9" y="341.1" width="10.4" height="12.3" fill="#555555"/><rect x="6.9" y="353.4" width="10.4" height="7" fill="#ffffff"/><rect x="6.9" y="360.4" width="10.4" height="21.9" fill="#555555"/><rect x="6.9" y="382.3" width="10.4" height="39.7" fill="#ffffff"/><rect x="6.9" y="422" width="10.4" height="30.5" fill="#555555"/><rect x="6.9" y="452.5" width="10.4" height="12" fill="#ffffff"/><rect x="6.9" y="464.5" width="10.4" height="15.8" fill="#555555"/><rect x="6.9" y="480.3" width="10.4" height="10.7" fill="#ffffff"/><rect x="6.9" y="491" width="10.4" height="14.1" fill="#555555"/><rect x="6.9" y="505.1" width="10.4" height="8.9" fill="#ffffff"/><rect x="6.9" y="514" width="10.4" height="5.6" fill="#c4c4c4"/><rect x="6.9" y="519.6" width="10.4" height="8.9" fill="#ffffff"/><rect x="6.9" y="528.5" width="10.4" height="24.3" fill="#9a9a9a"/><rect x="6.9" y="552.8" width="10.4" height="20" fill="#ffffff"/><rect x="6.9" y="572.8" width="10.4" height="20.4" fill="#555555"/><rect x="6.9" y="593.2" width="10.4" height="18.8" fill="#ffffff"/><rect x="6.9" y="612" width="10.4" height="12" fill="#d6d6d6"/><rect x="6.9" y="624" width="10.4" height="15.3" fill="#ffffff"/><rect x="6.9" y="513.55" width="10.4" height="0.9" fill="#555"/><rect x="6.9" y="519.15" width="10.4" height="0.9" fill="#555"/><rect x="6.9" y="528.05" width="10.4" height="0.9" fill="#555"/><rect x="6.9" y="552.35" width="10.4" height="0.9" fill="#555"/><path d="M6.9,229.7 A5.2,6.0 0 0 1 17.3,229.7 Z" fill="#c0271d" stroke="#7a1a12" stroke-width="0.5"/><rect x="6.9" y="229.6" width="0.6" height="409.7" fill="#dcdcdc"/></g><g><line x1="20.3" y1="386.0" x2="376.5" y2="386.0" stroke="#0e0e3c" stroke-width="2" stroke-dasharray="3.4 2.9"/><line x1="20.3" y1="395.2" x2="376.5" y2="395.2" stroke="#0e0e3c" stroke-width="2" stroke-dasharray="3.4 2.9"/></g><g><line x1="385.6" y1="309" x2="377.6" y2="386.5" stroke="#000" stroke-width="1.5"/><line x1="376.6" y1="409.5" x2="385.6" y2="540" stroke="#000" stroke-width="1.5"/><line x1="439.6" y1="294.0" x2="439.6" y2="403.4" stroke="#3f5bd6" stroke-width="1.5"/><line x1="434.8" y1="294.0" x2="444.40000000000003" y2="294.0" stroke="#3f5bd6" stroke-width="1.5"/><line x1="434.8" y1="403.4" x2="444.40000000000003" y2="403.4" stroke="#3f5bd6" stroke-width="1.5"/><line x1="459.0" y1="241.3" x2="459.0" y2="402.5" stroke="#5262c0" stroke-width="1.6" stroke-dasharray="2.6 4.0"/><line x1="454.4" y1="240.8" x2="463.6" y2="240.8" stroke="#3f5bd6" stroke-width="1.5"/><line x1="454.4" y1="403.0" x2="463.6" y2="403.0" stroke="#3f5bd6" stroke-width="1.5"/><line x1="476.1" y1="376.6" x2="476.1" y2="407.7" stroke="#5262c0" stroke-width="1.6" stroke-dasharray="2.6 3.7"/><line x1="471.70000000000005" y1="376.1" x2="480.5" y2="376.1" stroke="#3f5bd6" stroke-width="1.5"/><line x1="471.70000000000005" y1="408.2" x2="480.5" y2="408.2" stroke="#3f5bd6" stroke-width="1.5"/><line x1="502.6" y1="341.6" x2="502.6" y2="393.4" stroke="#5262c0" stroke-width="1.6" stroke-dasharray="2.6 3.8"/><line x1="498.3" y1="341.1" x2="506.90000000000003" y2="341.1" stroke="#3f5bd6" stroke-width="1.5"/><line x1="498.3" y1="393.9" x2="506.90000000000003" y2="393.9" stroke="#3f5bd6" stroke-width="1.5"/><line x1="440.0" y1="431.7" x2="440.0" y2="554.1" stroke="#5262c0" stroke-width="1.6" stroke-dasharray="2.4 3.3"/><line x1="435.6" y1="431.2" x2="444.4" y2="431.2" stroke="#3f5bd6" stroke-width="1.5"/><line x1="435.6" y1="554.6" x2="444.4" y2="554.6" stroke="#3f5bd6" stroke-width="1.5"/></g><g font-family="Liberation Sans, sans-serif"><text transform="translate(25.28,220.1) rotate(-90)" font-size="13.2" fill="#000" font-weight="normal" font-style="normal" textLength="83.3" lengthAdjust="spacingAndGlyphs">A36: -7 [100%]</text><text transform="translate(34.78,220.1) rotate(-90)" font-size="13.2" fill="#000" font-weight="normal" font-style="normal" textLength="76.1" lengthAdjust="spacingAndGlyphs">A24: -7 [96%]</text><text transform="translate(45.08,220.1) rotate(-90)" font-size="13.2" fill="#000" font-weight="normal" font-style="normal" textLength="82.6" lengthAdjust="spacingAndGlyphs">T02: -7 [100%]</text><text transform="translate(54.38,220.1) rotate(-90)" font-size="13.2" fill="#000" font-weight="normal" font-style="normal" textLength="75.6" lengthAdjust="spacingAndGlyphs">T03: -7 [93%]</text><text transform="translate(66.08,220.1) rotate(-90)" font-size="13.2" fill="#000" font-weight="normal" font-style="normal" textLength="216.6" lengthAdjust="spacingAndGlyphs">A56: der(7)t(7;17)(q11.2;q11.2) [35%]</text><text transform="translate(76.78,220.1) rotate(-90)" font-size="13.2" fill="#000" font-weight="normal" font-style="normal" textLength="105" lengthAdjust="spacingAndGlyphs">UoCM1: -7 [100%]</text><text transform="translate(87.08,220.1) rotate(-90)" font-size="13.2" fill="#000" font-weight="normal" font-style="normal" textLength="82.8" lengthAdjust="spacingAndGlyphs">T08: -7 [100%]</text><text transform="translate(97.38,220.1) rotate(-90)" font-size="13.2" fill="#000" font-weight="normal" font-style="normal" textLength="166.1" lengthAdjust="spacingAndGlyphs">A65: del(7)(q11.2q36)[100%]</text><text transform="translate(107.68,220.1) rotate(-90)" font-size="13.2" fill="#000" font-weight="normal" font-style="normal" textLength="76" lengthAdjust="spacingAndGlyphs">A74: -7 [10%]</text><text transform="translate(117.98,220.1) rotate(-90)" font-size="13.2" fill="#000" font-weight="normal" font-style="normal" textLength="76" lengthAdjust="spacingAndGlyphs">T52: -7 [85%]</text><text transform="translate(128.28,220.1) rotate(-90)" font-size="13.2" fill="#000" font-weight="normal" font-style="normal" textLength="76" lengthAdjust="spacingAndGlyphs">T16: -7 [50%]</text><text transform="translate(138.58,220.1) rotate(-90)" font-size="13.2" fill="#000" font-weight="normal" font-style="normal" textLength="76" lengthAdjust="spacingAndGlyphs">T70: -7 [55%]</text><text transform="translate(148.88,220.1) rotate(-90)" font-size="13.2" fill="#000" font-weight="normal" font-style="normal" textLength="82.1" lengthAdjust="spacingAndGlyphs">T75: -7 [100%]</text><text transform="translate(159.18,220.1) rotate(-90)" font-size="13.2" fill="#000" font-weight="normal" font-style="normal" textLength="82.1" lengthAdjust="spacingAndGlyphs">T19: -7 [100%]</text><text transform="translate(169.48,220.1) rotate(-90)" font-size="13.2" fill="#000" font-weight="normal" font-style="normal" textLength="76" lengthAdjust="spacingAndGlyphs">T04: -7 [76%]</text><text transform="translate(179.78,220.1) rotate(-90)" font-size="13.2" fill="#000" font-weight="normal" font-style="normal" textLength="156.4" lengthAdjust="spacingAndGlyphs">T20: del(7)(q22q36) [100%]</text><text transform="translate(190.08,220.1) rotate(-90)" font-size="13.2" fill="#000" font-weight="normal" font-style="normal" textLength="199.1" lengthAdjust="spacingAndGlyphs">A72: -7[15%]/r(7)(p2?2q2?2)[75%]</text><text transform="translate(200.38,220.1) rotate(-90)" font-size="13.2" fill="#b2392c" font-weight="normal" font-style="normal" textLength="79.4" lengthAdjust="spacingAndGlyphs">T12: normal 7</text><text transform="translate(210.68,220.1) rotate(-90)" font-size="13.2" fill="#000" font-weight="normal" font-style="normal" textLength="22.6" lengthAdjust="spacingAndGlyphs">A19</text><text transform="translate(220.98,220.1) rotate(-90)" font-size="13.2" fill="#000" font-weight="normal" font-style="normal" textLength="22.6" lengthAdjust="spacingAndGlyphs">A20</text><text transform="translate(231.28,220.1) rotate(-90)" font-size="13.2" fill="#000" font-weight="normal" font-style="normal" textLength="22.6" lengthAdjust="spacingAndGlyphs">A21</text><text transform="translate(241.58,220.1) rotate(-90)" font-size="13.2" fill="#000" font-weight="normal" font-style="normal" textLength="22.6" lengthAdjust="spacingAndGlyphs">A34</text><text transform="translate(251.88,220.1) rotate(-90)" font-size="13.2" fill="#000" font-weight="normal" font-style="normal" textLength="22.6" lengthAdjust="spacingAndGlyphs">A35</text><text transform="translate(262.18,220.1) rotate(-90)" font-size="13.2" fill="#000" font-weight="normal" font-style="normal" textLength="22.6" lengthAdjust="spacingAndGlyphs">A44</text><text transform="translate(272.48,220.1) rotate(-90)" font-size="13.2" fill="#000" font-weight="normal" font-style="normal" textLength="22.6" lengthAdjust="spacingAndGlyphs">A53</text><text transform="translate(282.78,220.1) rotate(-90)" font-size="13.2" fill="#000" font-weight="normal" font-style="normal" textLength="22.6" lengthAdjust="spacingAndGlyphs">T01</text><text transform="translate(293.08,220.1) rotate(-90)" font-size="13.2" fill="#000" font-weight="normal" font-style="normal" textLength="22.6" lengthAdjust="spacingAndGlyphs">T05</text><text transform="translate(303.38,220.1) rotate(-90)" font-size="13.2" fill="#000" font-weight="normal" font-style="normal" textLength="22.6" lengthAdjust="spacingAndGlyphs">T25</text><text transform="translate(313.68,220.1) rotate(-90)" font-size="13.2" fill="#000" font-weight="normal" font-style="normal" textLength="22.6" lengthAdjust="spacingAndGlyphs">T29</text><text transform="translate(323.98,220.1) rotate(-90)" font-size="13.2" fill="#000" font-weight="normal" font-style="normal" textLength="22.6" lengthAdjust="spacingAndGlyphs">T39</text><text transform="translate(334.28,220.1) rotate(-90)" font-size="13.2" fill="#000" font-weight="normal" font-style="normal" textLength="22.6" lengthAdjust="spacingAndGlyphs">T40</text><text transform="translate(344.58,220.1) rotate(-90)" font-size="13.2" fill="#000" font-weight="normal" font-style="normal" textLength="22.6" lengthAdjust="spacingAndGlyphs">T55</text><text transform="translate(354.88,220.1) rotate(-90)" font-size="13.2" fill="#000" font-weight="normal" font-style="normal" textLength="22.6" lengthAdjust="spacingAndGlyphs">T67</text><text transform="translate(365.18,220.1) rotate(-90)" font-size="13.2" fill="#000" font-weight="normal" font-style="normal" textLength="22.6" lengthAdjust="spacingAndGlyphs">T68</text><text transform="translate(375.48,220.1) rotate(-90)" font-size="13.2" fill="#000" font-weight="normal" font-style="normal" textLength="22.6" lengthAdjust="spacingAndGlyphs">T72</text><text x="384.6" y="305" font-size="14" font-style="italic">STAG3</text><text x="384.4" y="393.8" font-size="13.5" font-style="italic" font-weight="bold" fill="#bb2a1d">CUX1</text><text x="384.4" y="404.6" font-size="14" font-style="italic">SH2B2</text><text x="385.1" y="430.4" font-size="14" font-style="italic">FBXL13</text><text x="385.1" y="553.4" font-size="14" font-style="italic">SRPK2</text><text transform="translate(436,371) rotate(-90)" font-size="14" fill="#000" font-weight="bold" font-style="normal">2.2 Mb</text><text transform="translate(453.6,393.2) rotate(-90)" font-size="14" fill="#000" font-weight="bold" font-style="normal">current study</text><text transform="translate(472.8,341.6) rotate(-90)" font-size="14" fill="#000" font-weight="normal" font-style="normal">Fischer <tspan font-style="italic">et al.</tspan></text><text transform="translate(490.3,423.5) rotate(-90)" font-size="14" fill="#000" font-weight="normal" font-style="normal">Tosi <tspan font-style="italic">et al.</tspan></text><text transform="translate(514.8,403) rotate(-90)" font-size="14" fill="#000" font-weight="normal" font-style="normal">Jerez <tspan font-style="italic">et al.</tspan></text><text transform="translate(452.6,532) rotate(-90)" font-size="14" fill="#000" font-weight="normal" font-style="normal">Le Beau <tspan font-style="italic">et al.</tspan></text><text transform="translate(436.4,509.7) rotate(-90)" font-size="14" fill="#000" font-weight="normal" font-style="normal">2.5 Mb</text><text transform="translate(16.7,281.3) rotate(-90)" font-size="13.6" fill="#000" font-weight="normal" font-style="normal">7q11</text><text transform="translate(16.7,412.8) rotate(-90)" font-size="13.8" fill="#000" font-weight="normal" font-style="normal">7q22</text><text transform="translate(16.7,638.4) rotate(-90)" font-size="14.2" fill="#000" font-weight="normal" font-style="normal">7q36</text><text x="260.2" y="124.6" font-size="14" font-weight="bold">Copy number:</text><text x="320.2" y="148.4" font-size="14">LOH</text><rect x="284.2" y="165.2" width="67.5" height="13.2" fill="#000"/><rect x="285.4" y="166.4" width="9.85" height="10.8" fill="#b0281a"/><text x="290.32" y="162.6" font-size="14" text-anchor="middle">4</text><rect x="296.45" y="166.4" width="9.85" height="10.8" fill="#a5769a"/><text x="301.38" y="162.6" font-size="14" text-anchor="middle">3</text><rect x="307.5" y="166.4" width="9.85" height="10.8" fill="#d7d7d7"/><text x="312.43" y="162.6" font-size="14" text-anchor="middle">2</text><rect x="318.55" y="166.4" width="9.85" height="10.8" fill="#b3dcf8"/><text x="323.47" y="162.6" font-size="14" text-anchor="middle">2</text><rect x="329.6" y="166.4" width="9.85" height="10.8" fill="#4673f0"/><text x="334.52" y="162.6" font-size="14" text-anchor="middle">1</text><rect x="340.65" y="166.4" width="9.85" height="10.8" fill="#1f2e94"/><text x="345.57" y="162.6" font-size="14" text-anchor="middle">0</text></g></svg>
</body></html>
